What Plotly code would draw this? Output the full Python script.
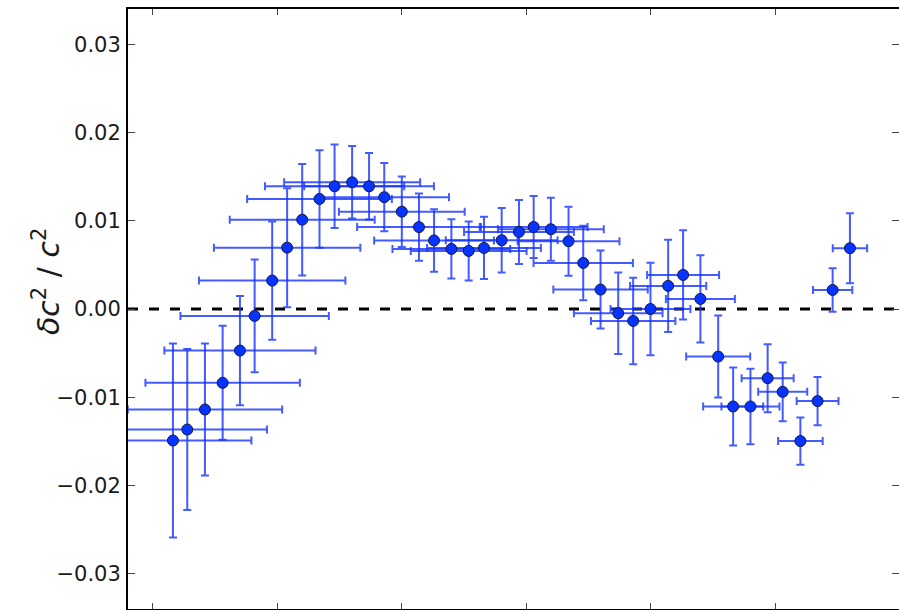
import plotly.graph_objects as go

# Binned measurements of the relative squared sound-speed difference
x_pos = [0.164, 0.279, 0.421, 0.563, 0.702, 0.820, 0.961, 1.081, 1.202, 1.341,
         1.462, 1.603, 1.739, 1.861, 2.002, 2.140, 2.261, 2.400, 2.539, 2.662,
         2.804, 2.943, 3.061, 3.199, 3.341, 3.459, 3.598, 3.740, 3.860, 3.999,
         4.141, 4.261, 4.400, 4.543, 4.663, 4.802, 4.940, 5.061, 5.203, 5.341,
         5.462, 5.601]
x_err = [0.630, 0.640, 0.620, 0.620, 0.607, 0.596, 0.588, 0.588, 0.582, 0.581,
         0.559, 0.546, 0.521, 0.520, 0.505, 0.497, 0.481, 0.473, 0.465, 0.457,
         0.449, 0.441, 0.433, 0.425, 0.409, 0.399, 0.379, 0.356, 0.339, 0.321,
         0.306, 0.289, 0.277, 0.257, 0.241, 0.233, 0.209, 0.197, 0.179, 0.168,
         0.158, 0.138]
dc2 = [-0.01490, -0.01366, -0.01139, -0.00837, -0.00471, -0.00078, 0.00322,
       0.00695, 0.01012, 0.01247, 0.01391, 0.01436, 0.01391, 0.01267, 0.01103,
       0.00928, 0.00777, 0.00681, 0.00658, 0.00692, 0.00779, 0.00873, 0.00930,
       0.00904, 0.00768, 0.00522, 0.00220, -0.00048, -0.00135, 0.00000,
       0.00262, 0.00386, 0.00114, -0.00539, -0.01105, -0.01105, -0.00784,
       -0.00939, -0.01497, -0.01044, 0.00216, 0.00689]
dc2_err = [0.01099, 0.00912, 0.00747, 0.00646, 0.00619, 0.00638, 0.00670,
           0.00674, 0.00631, 0.00553, 0.00472, 0.00410, 0.00376, 0.00387,
           0.00399, 0.00382, 0.00354, 0.00336, 0.00334, 0.00353, 0.00365,
           0.00362, 0.00351, 0.00357, 0.00392, 0.00422, 0.00442, 0.00462,
           0.00490, 0.00523, 0.00523, 0.00506, 0.00495, 0.00464, 0.00442,
           0.00427, 0.00385, 0.00332, 0.00268, 0.00274, 0.00246, 0.00396]

y_ticks = [-0.03, -0.02, -0.01, 0.00, 0.01, 0.02, 0.03]
y_tick_text = ["\u22120.03", "\u22120.02", "\u22120.01", "0.00", "0.01", "0.02", "0.03"]
x_ticks = [0, 1, 2, 3, 4, 5]

X_RANGE = [-0.197, 5.995]
Y_RANGE = [-0.034, 0.034]

err_color = "rgba(20,50,255,0.8)"

fig = go.Figure()

fig.add_trace(go.Scatter(
    x=x_pos, y=dc2, mode="markers",
    marker=dict(size=11, color="#0633ff", line=dict(color="#141a3c", width=1)),
    error_y=dict(type="data", array=dc2_err, color=err_color, thickness=2, width=4),
    error_x=dict(type="data", array=x_err, color=err_color, thickness=2, width=4),
    showlegend=False, hoverinfo="skip",
))

# invisible trace carrying the right-hand tick axis
fig.add_trace(go.Scatter(x=[X_RANGE[0]], y=[0], yaxis="y2", mode="markers",
                         marker=dict(opacity=0), showlegend=False, hoverinfo="skip"))

# zero reference line
fig.add_shape(type="line", xref="paper", x0=0, x1=1, yref="y", y0=0, y1=0,
              line=dict(color="black", width=3, dash="10px,11px"), layer="below")

tick_font = dict(family="DejaVu Sans", size=21, color="#1a1a1a")

fig.update_layout(
    width=899, height=610,
    margin=dict(l=128, r=0, t=9, b=1),
    paper_bgcolor="white", plot_bgcolor="white",
    xaxis=dict(range=X_RANGE, tickvals=x_ticks, showticklabels=False,
               ticks="inside", ticklen=6, tickwidth=1, tickcolor="#444",
               showline=True, linecolor="black", linewidth=2, mirror="ticks",
               showgrid=False, zeroline=False),
    yaxis=dict(range=Y_RANGE, tickvals=y_ticks, ticktext=y_tick_text,
               ticks="inside", ticklen=7, tickwidth=1, tickcolor="#444",
               tickfont=tick_font, ticklabelstandoff=1,
               showline=True, linecolor="black", linewidth=2,
               showgrid=False, zeroline=False),
    yaxis2=dict(range=Y_RANGE, tickvals=y_ticks, overlaying="y", side="right",
                ticks="inside", ticklen=7, tickwidth=1, tickcolor="#444",
                showticklabels=False, showline=False, showgrid=False, zeroline=False),
)

fig.add_annotation(
    text="<i>\u03b4c</i><sup>2</sup> / <i>c</i><sup>2</sup>",
    xref="paper", yref="paper", x=-82 / 771, y=0.545,
    xanchor="center", yanchor="middle", textangle=-90, showarrow=False,
    font=dict(family="DejaVu Sans", size=30, color="#1a1a1a"),
)

fig.write_html("out.html")
